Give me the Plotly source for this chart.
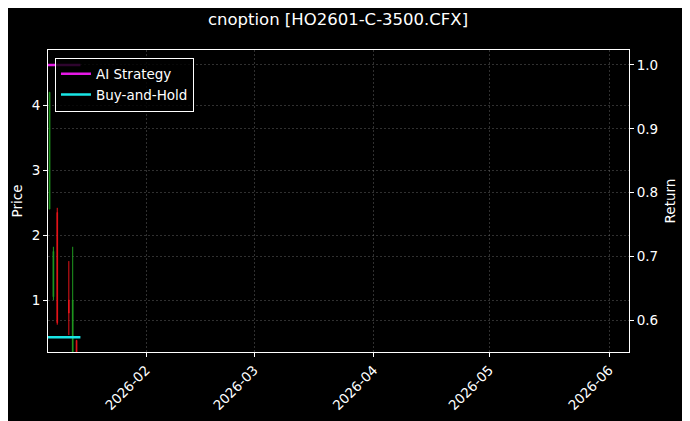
import plotly.graph_objects as go

# candle data
candle_dates = ["2026-01-07", "2026-01-08", "2026-01-09", "2026-01-12", "2026-01-13", "2026-01-14"]
open_px = [2.4, 1.05, 2.35, 1.0, 0.15, 0.38]
high_px = [4.2, 1.82, 2.42, 1.6, 1.82, 0.38]
low_px = [2.4, 1.0, 0.62, 0.46, 0.1, 0.1]
close_px = [4.2, 1.75, 0.65, 0.8, 1.0, 0.12]

# return curves
ret_dates = ["2026-01-06", "2026-01-07", "2026-01-08", "2026-01-09",
             "2026-01-12", "2026-01-13", "2026-01-14", "2026-01-15"]
ai_ret = [1.0, 1.0, 1.0, 1.0, 1.0, 1.0, 1.0, 1.0]
bh_ret = [0.573, 0.573, 0.573, 0.573, 0.573, 0.573, 0.573, 0.573]

title = "cnoption [HO2601-C-3500.CFX]"
font = "DejaVu Sans"
fs = 13.5

fig = go.Figure()

fig.add_trace(go.Candlestick(
    x=candle_dates, open=open_px, high=high_px, low=low_px, close=close_px,
    increasing=dict(line=dict(color="#1f9a1f", width=1), fillcolor="#1f9a1f"),
    decreasing=dict(line=dict(color="#e8141a", width=1), fillcolor="#e8141a"),
    showlegend=False, yaxis="y"))

fig.add_trace(go.Scatter(x=ret_dates, y=ai_ret, name="AI Strategy", mode="lines",
                         line=dict(color="#e619e6", width=2.5), yaxis="y2"))
fig.add_trace(go.Scatter(x=ret_dates, y=bh_ret, name="Buy-and-Hold", mode="lines",
                         line=dict(color="#19e6e6", width=2.5), yaxis="y2"))

grid = dict(showgrid=True, gridcolor="rgba(120,120,120,0.4)", griddash="2px,2px", gridwidth=0.6)

# page body adds ~8px offset, so margins are shifted to compensate
fig.update_layout(
    width=690, height=421,
    paper_bgcolor="black", plot_bgcolor="black",
    font=dict(family=font, size=fs, color="white"),
    margin=dict(l=40, r=69, t=42, b=77),
    boxgap=0.75,
    title=dict(text=title, x=330 / 690, xanchor="center", y=1 - 11 / 421, yanchor="middle",
               font=dict(size=16.5, color="white")),
    legend=dict(x=0.012, y=0.975, xanchor="left", yanchor="top",
                bgcolor="rgba(0,0,0,0.8)", bordercolor="white", borderwidth=1,
                font=dict(size=fs, color="white"), itemwidth=30,
                tracegroupgap=0),
    xaxis=dict(type="date", range=["2026-01-06 14:24", "2026-06-06 04:20"],
               rangeslider=dict(visible=False), automargin=False,
               tickvals=["2026-02-01", "2026-03-01", "2026-04-01", "2026-05-01", "2026-06-01"],
               ticktext=["2026-02", "2026-03", "2026-04", "2026-05", "2026-06"],
               tickangle=-45, ticks="outside", ticklen=4, tickcolor="white",
               showline=True, linecolor="white", linewidth=1, mirror=True,
               zeroline=False, **grid),
    yaxis=dict(title=dict(text="Price", standoff=5, font=dict(size=fs)), range=[0.2, 4.85],
               automargin=False,
               tickvals=[1, 2, 3, 4], ticks="outside", ticklen=4, tickcolor="white",
               showline=True, linecolor="white", linewidth=1,
               zeroline=False, **grid),
    yaxis2=dict(title=dict(text="Return", standoff=8, font=dict(size=fs)), range=[0.55, 1.0235],
                overlaying="y", side="right", automargin=False,
                tickvals=[0.6, 0.7, 0.8, 0.9, 1.0], ticktext=["0.6", "0.7", "0.8", "0.9", "1.0"],
                ticks="outside", ticklen=4, tickcolor="white",
                showline=True, linecolor="white", linewidth=1,
                zeroline=False, **grid),
)

fig.write_html("out.html")
